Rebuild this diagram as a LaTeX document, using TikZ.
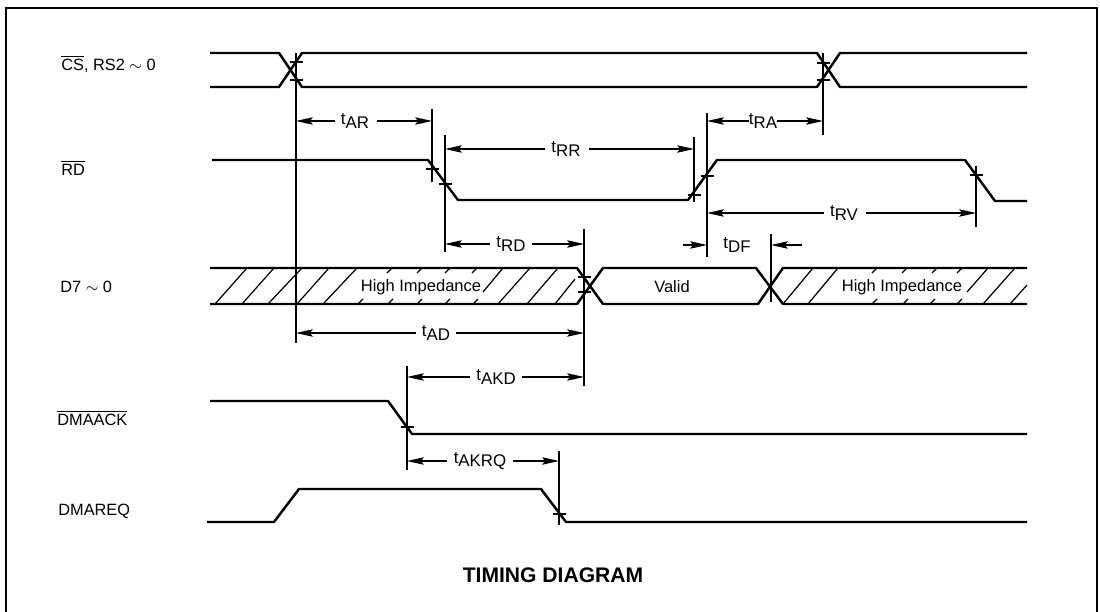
\documentclass[tikz,border=0pt]{standalone}
\usepackage{fontspec}
\setmainfont{Liberation Sans}
\usetikzlibrary{arrows.meta, calc}
% t with its lowered suffix
\newcommand{\tsub}[1]{t\raisebox{-2pt}{#1}}
\begin{document}
\begin{tikzpicture}[
    x=0.02cm, y=-0.02cm,
    signal/.style={line width=1.4pt, line join=round},
    thinline/.style={line width=0.7pt},
    hatch/.style={line width=0.7pt},
    dimline/.style={line width=0.7pt, -{Stealth[length=9.5pt,width=4.2pt,inset=1.5pt]}},
    tlabel/.style={font=\fontsize{9.6}{11}\selectfont, inner sep=0pt},
    sigtext/.style={font=\fontsize{9.3}{11}\selectfont, inner sep=0pt, anchor=west},
    bustext/.style={font=\fontsize{9.4}{11}\selectfont, inner sep=0pt, text=black},
  ]
  \useasboundingbox (0,0) rectangle (1100,612);
  \fill[white] (0,0) rectangle (1100,612);

  % Frame
  \draw[line width=0.8pt] (6,612) -- (6,8) -- (1097,8) -- (1097,612);

  % Signal names
  \node[sigtext] (csname) at (61,64) {$\overline{\mbox{CS}}$, RS2 $\sim$ 0};
  \node[sigtext] (rdname) at (61,168) {$\overline{\mbox{RD}}$};
  \node[sigtext] (dname) at (60,287) {D7 $\sim$ 0};
  \node[sigtext] (ackname) at (57,418) {$\overline{\mbox{DMAACK}}$};
  \node[sigtext] (reqname) at (58,511) {DMAREQ};

  % CS, RS
  \draw[signal] (210,53) -- (279,53) -- (302,87) -- (817,87) -- (840,53) -- (1027,53);
  \draw[signal] (210,87) -- (279,87) -- (302,53) -- (817,53) -- (840,87) -- (1027,87);

  % RD
  \draw[signal] (212,160) -- (428,160) -- (458,200) -- (688,200) -- (717,160)
    -- (965,160) -- (995,201) -- (1027,201);

  % D7
  \draw[signal] (210,268) -- (577,268) -- (603,304) -- (758,304) -- (783,268) -- (1027,268);
  \draw[signal] (210,304) -- (577,304) -- (603,268) -- (756,268) -- (783,304) -- (1027,304);

  % Hatching
  \foreach \xa/\xb in {215/247, 242/274, 268/302, 297/329, 323/357, 498/530, 527/558, 783/813, 808/838, 983/1015} {
    \draw[hatch] (\xa,304) -- (\xb,268);
  }
  \draw[hatch] (483,292) -- (503,268);
  \draw[hatch] (555,304) -- (575,279);
  \draw[hatch] (967,292) -- (988,268);
  \draw[hatch] (1010,304) -- (1027,285);
  \foreach \xa in {387,417,445,472,872,902,932,957} {
    \draw[hatch] (\xa,273) -- ($(\xa,273)+(5,-5)$);
  }
  \foreach \xa in {358,388,417,445,473,872,903,930,957} {
    \draw[hatch] (\xa,304) -- ($(\xa,304)+(5,-5)$);
  }
  \node[bustext] (hi1) at (421,287) {High Impedance};
  \node[bustext] (valid) at (672,287) {Valid};
  \node[bustext] (hi2) at (902,287) {High Impedance};

  % DMAACK, DMAREQ
  \draw[signal] (210,401) -- (388,401) -- (412,434) -- (1027,434);
  \draw[signal] (207,522) -- (274,522) -- (299,489) -- (541,489) -- (566,522) -- (1027,522);

  % Timing edges
  \coordinate (ecs) at (296,53);
  \coordinate (eack) at (407,366);
  \coordinate (erd) at (432,109);
  \coordinate (err) at (445,135);
  \coordinate (ereq) at (559,451);
  \coordinate (edv) at (584,229);
  \coordinate (erise) at (694,137);
  \coordinate (efall) at (707,113);
  \coordinate (edf) at (771,234);
  \coordinate (era) at (823,53);
  \coordinate (erv) at (976,166);

  \draw[thinline] (ecs) -- (ecs |- 0,343);
  \draw[thinline] (eack) -- (eack |- 0,470);
  \draw[thinline] (erd) -- (erd |- 0,182);
  \draw[thinline] (err) -- (err |- 0,252);
  \draw[thinline] (ereq) -- (ereq |- 0,525);
  \draw[thinline] (edv) -- (edv |- 0,386);
  \draw[thinline] (erise) -- (erise |- 0,202);
  \draw[thinline] (efall) -- (efall |- 0,257);
  \draw[thinline] (edf) -- (edf |- 0,302);
  \draw[thinline] (era) -- (era |- 0,135);
  \draw[thinline] (erv) -- (erv |- 0,227);

  % Ticks on the edges
  \foreach \tx/\ty in {296/62, 296/80, 823/63, 823/80, 432/169, 445/184, 694/195, 707/176,
                       976/175, 584/277, 584/292, 407/427, 559/514} {
    \draw[line width=0.9pt] ($(\tx,\ty)+(-6.5,0)$) -- ($(\tx,\ty)+(6.5,0)$);
  }

  % Labels with their arrows
  \node[tlabel] (tar) at (355,121) {\tsub{AR}};
  \draw[dimline] ($(tar.west)+(-6,0)$) -- (tar -| ecs);
  \draw[dimline] ($(tar.east)+(8,0)$) -- (tar -| erd);

  \node[tlabel] (trr) at (566,149) {\tsub{RR}};
  \draw[dimline] ($(trr.west)+(-6,0)$) -- (trr -| err);
  \draw[dimline] ($(trr.east)+(8,0)$) -- (trr -| erise);

  \node[tlabel] (tra) at (763,121) {\tsub{RA}};
  \draw[dimline] (tra.west) -- (tra -| efall);
  \draw[dimline] (tra.east) -- (tra -| era);

  \node[tlabel] (trv) at (844,213) {\tsub{RV}};
  \draw[dimline] ($(trv.west)+(-6,0)$) -- (trv -| efall);
  \draw[dimline] ($(trv.east)+(8,0)$) -- (trv -| erv);

  \node[tlabel] (trd) at (511,244) {\tsub{RD}};
  \draw[dimline] ($(trd.west)+(-6,0)$) -- (trd -| err);
  \draw[dimline] ($(trd.east)+(6,0)$) -- (trd -| edv);

  \node[tlabel] (tdf) at (737,245) {\tsub{DF}};
  \coordinate (dfl) at (683,245);
  \coordinate (dfr) at (802,245);
  \draw[dimline] (dfl) -- (dfl -| efall);
  \draw[dimline] (dfr) -- (dfr -| edf);

  \node[tlabel] (tad) at (436,333) {\tsub{AD}};
  \draw[dimline] ($(tad.west)+(-6,0)$) -- (tad -| ecs);
  \draw[dimline] ($(tad.east)+(6,0)$) -- (tad -| edv);

  \node[tlabel] (takd) at (496,377) {\tsub{AKD}};
  \draw[dimline] ($(takd.west)+(-6,0)$) -- (takd -| eack);
  \draw[dimline] ($(takd.east)+(6,0)$) -- (takd -| edv);

  \node[tlabel] (takrq) at (480,461) {\tsub{AKRQ}};
  \draw[dimline] ($(takrq.west)+(-6,0)$) -- (takrq -| eack);
  \draw[dimline] ($(takrq.east)+(6,0)$) -- (takrq -| ereq);

  \node[font=\fontsize{12}{14}\selectfont\bfseries, inner sep=0pt] (title) at (553,575) {TIMING DIAGRAM};
\end{tikzpicture}
\end{document}
